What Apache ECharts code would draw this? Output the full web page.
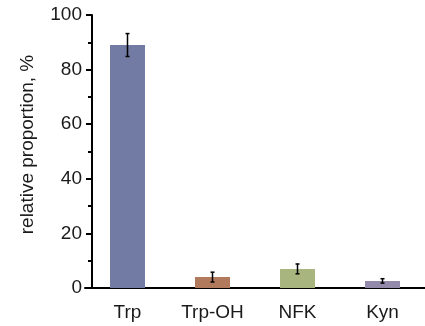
<!DOCTYPE html>
<html>
<head>
<meta charset="utf-8">
<script src="https://cdn.jsdelivr.net/npm/echarts@6/dist/echarts.min.js"></script>
<style>
  html, body { margin: 0; padding: 0; background: #fff; }
  #chart { width: 425px; height: 326px; }
</style>
</head>
<body>
<div id="chart"></div>
<script>
// 数据
const categories = ['Trp', 'Trp-OH', 'NFK', 'Kyn']
const values = [89, 4, 7, 2.6]
const errors = [4.2, 1.8, 1.8, 0.8]
const colors = ['#717ba3', '#b27a5c', '#a8b57e', '#938aab']
const yTicks = [0, 20, 40, 60, 80, 100]

const chart = echarts.init(document.getElementById('chart'))

const font = 'Liberation Sans, Arial, sans-serif'

// 误差线
const renderError = (params, api) => {
  const i = api.value(0)
  const hi = api.coord([i, api.value(1)])
  const lo = api.coord([i, api.value(2)])
  const cap = 2
  const style = { stroke: '#000', lineWidth: 1.5 }
  return {
    type: 'group',
    children: [
      { type: 'line', shape: { x1: hi[0], y1: hi[1], x2: lo[0], y2: lo[1] }, style },
      { type: 'line', shape: { x1: hi[0] - cap, y1: hi[1], x2: hi[0] + cap, y2: hi[1] }, style },
      { type: 'line', shape: { x1: lo[0] - cap, y1: lo[1], x2: lo[0] + cap, y2: lo[1] }, style }
    ]
  }
}

const option = {
  animation: false,
  grid: { left: 85, right: 0, top: 15, bottom: 38 },
  xAxis: {
    type: 'category',
    data: categories,
    axisLine: { lineStyle: { color: '#000', width: 2 } },
    axisTick: { show: false },
    axisLabel: { color: '#1a1a1a', fontSize: 19, fontFamily: font, margin: 15 }
  },
  yAxis: {
    type: 'value',
    min: yTicks[0],
    max: yTicks[yTicks.length - 1],
    interval: 20,
    offset: -7,
    name: 'relative proportion, %',
    nameLocation: 'middle',
    nameGap: 55,
    nameTextStyle: { color: '#1a1a1a', fontSize: 19, fontFamily: font, padding: [0, 0, 0, 14] },
    axisLine: { show: true, lineStyle: { color: '#000', width: 2 } },
    axisTick: { show: true, length: 6, lineStyle: { color: '#000', width: 2 } },
    minorTick: { show: true, splitNumber: 2, length: 4, lineStyle: { color: '#000', width: 2 } },
    splitLine: { show: false },
    axisLabel: { color: '#1a1a1a', fontSize: 19, fontFamily: font, margin: 10 }
  },
  series: [
    {
      type: 'bar',
      barWidth: 35,
      data: values.map((v, i) => ({ value: v, itemStyle: { color: colors[i] } }))
    },
    {
      type: 'custom',
      renderItem: renderError,
      data: values.map((v, i) => [i, v + errors[i], v - errors[i]]),
      z: 10
    }
  ]
}

chart.setOption(option)
</script>
</body>
</html>
